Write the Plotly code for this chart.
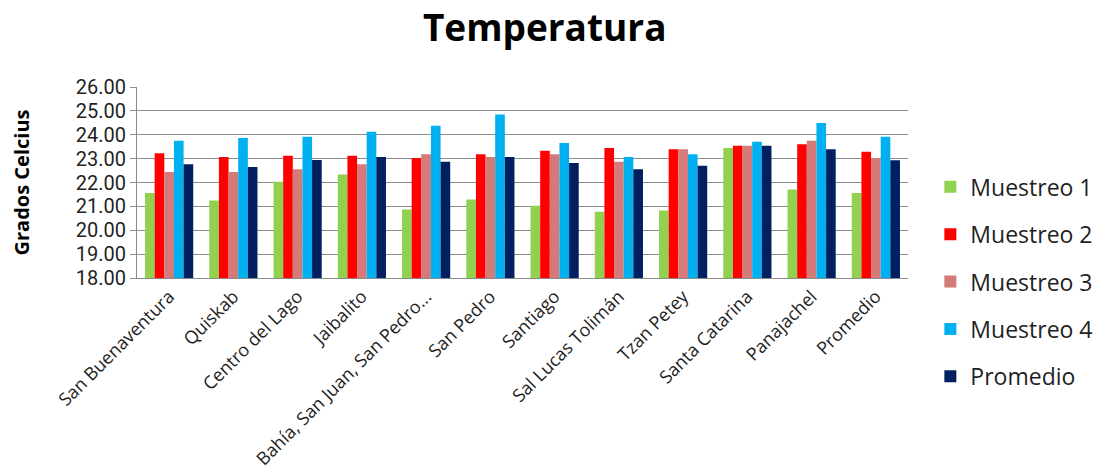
import plotly.graph_objects as go

sitios = ["San Buenaventura", "Quiskab", "Centro del Lago", "Jaibalito",
          "Bahía, San Juan, San Pedro...", "San Pedro", "Santiago",
          "Sal Lucas Tolimán", "Tzan Petey", "Santa Catarina", "Panajachel",
          "Promedio"]

muestreo_1 = [21.56, 21.25, 22.03, 22.34, 20.87, 21.29, 21.03, 20.78, 20.83, 23.44, 21.71, 21.56]
muestreo_2 = [23.23, 23.07, 23.12, 23.12, 23.03, 23.18, 23.33, 23.44, 23.39, 23.54, 23.60, 23.29]
muestreo_3 = [22.44, 22.44, 22.55, 22.76, 23.18, 23.07, 23.18, 22.87, 23.39, 23.54, 23.75, 23.03]
muestreo_4 = [23.75, 23.86, 23.92, 24.13, 24.38, 24.85, 23.65, 23.07, 23.18, 23.71, 24.49, 23.92]
promedio = [22.76, 22.65, 22.94, 23.07, 22.87, 23.07, 22.82, 22.55, 22.70, 23.54, 23.39, 22.93]

series = [
    ("Muestreo 1", muestreo_1, "#92D050"),
    ("Muestreo 2", muestreo_2, "#FF0000"),
    ("Muestreo 3", muestreo_3, "#D47B79"),
    ("Muestreo 4", muestreo_4, "#00B0F0"),
    ("Promedio", promedio, "#002060"),
]

font_family = "'Open Sans', Lato, sans-serif"
tick_family = "Roboto, 'Open Sans', sans-serif"
text_color = "#1F1F1F"

fig = go.Figure()
for i, (name, vals, color) in enumerate(series):
    fig.add_trace(go.Bar(
        x=sitios, y=vals, name=name, legendgroup=f"g{i}",
        marker=dict(color=color, line=dict(width=0)),
    ))

fig.update_layout(
    width=1096, height=475,
    paper_bgcolor="white", plot_bgcolor="white",
    margin=dict(l=137, r=188, t=87, b=197, autoexpand=False),
    barmode="group", bargap=0.25, bargroupgap=0,
    title=dict(text="<b>Temperatura</b>", x=0.497, xanchor="center",
               y=0.94, yanchor="middle",
               font=dict(family=font_family, size=37, color="black")),
    font=dict(family=font_family, color=text_color),
    legend=dict(x=1.029, xanchor="left", y=-0.02, yanchor="middle",
                font=dict(size=23, color=text_color),
                tracegroupgap=14.5, traceorder="grouped", maxheight=400,
                bgcolor="rgba(0,0,0,0)"),
    showlegend=True,
)

fig.update_yaxes(
    range=[18, 26], dtick=1, tickformat=".2f",
    showgrid=True, gridcolor="#8C8C8C", gridwidth=1,
    showline=True, linecolor="#8C8C8C", linewidth=1,
    ticks="outside", ticklen=6, tickcolor="#8C8C8C",
    tickfont=dict(family=tick_family, size=20, color=text_color),
    title=dict(text="<b>Grados Celcius</b>", font=dict(size=20, color="black"),
               standoff=40),
    zeroline=False, automargin=False,
)
fig.update_xaxes(
    tickangle=-45, tickfont=dict(size=18, color=text_color),
    showline=True, linecolor="#8C8C8C", linewidth=1,
    ticks="", automargin=False,
)

fig.write_html("out.html")
